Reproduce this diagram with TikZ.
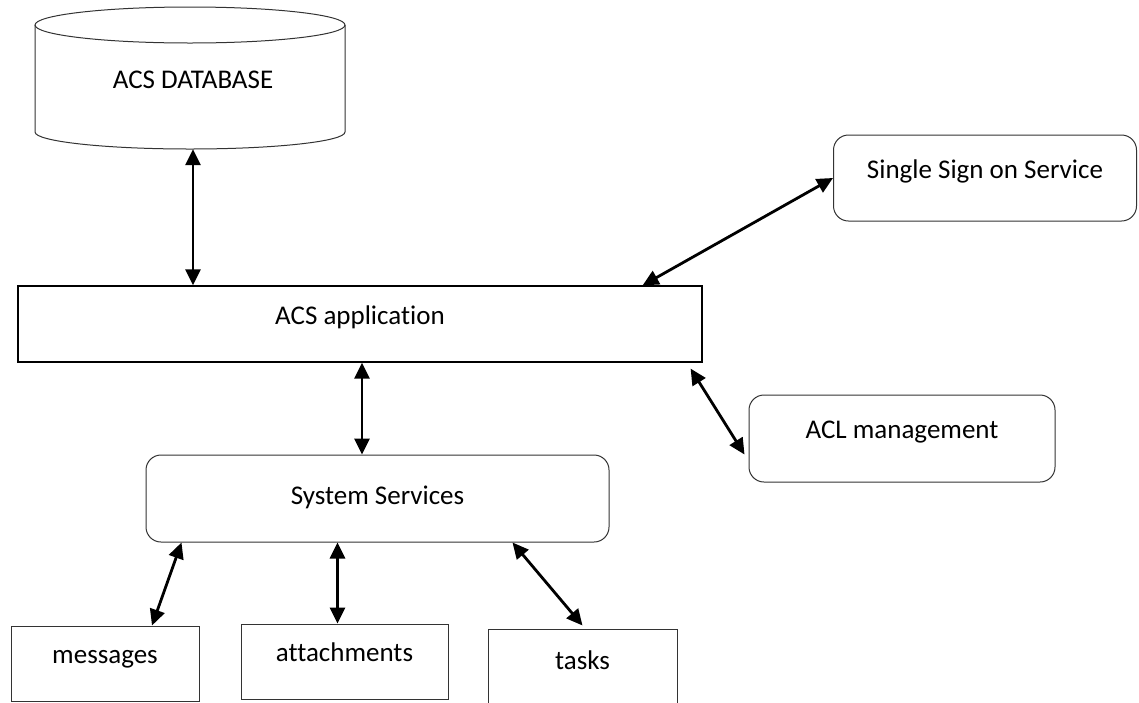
\documentclass[tikz,border=0pt]{standalone}
\usepackage{fontspec}
\setmainfont{Carlito}[Ligatures={NoCommon}]
\usetikzlibrary{arrows.meta,calc}
\begin{document}
\begin{tikzpicture}[x=1pt,y=1pt,
  every node/.style={font=\fontsize{27}{32}\selectfont, text height=18pt, text depth=18pt, inner sep=0pt},
  box/.style={draw=black!80, line width=1pt},
  sharpbox/.style={draw=black, line width=1.2pt},
  roundbox/.style={draw=black!80, line width=1pt, rounded corners=15pt},
  link/.style={line width=2.8pt, {Triangle[length=16pt,width=15pt]}-{Triangle[length=16pt,width=15pt]}}
]
\clip (0,-702) rectangle (1139,0);
\fill[white] (0,-702) rectangle (1139,0);
% cylinder
\draw[box] (190,-25) ellipse [x radius=155, y radius=18];
\draw[box] (35,-25) -- (35,-132) arc[start angle=180, end angle=360, x radius=155, y radius=17] -- (345,-25);
\node[minimum width=310pt, minimum height=142pt, text height=26pt, text depth=6pt] (db) at (193,-78) {ACS DATABASE};
% boxes
\node[sharpbox, minimum width=684pt, minimum height=76pt] (app) at (360,-324) {ACS application};
\node[roundbox, minimum width=303pt, minimum height=86pt] (sso) at (985,-178) {Single Sign on Service};
\node[roundbox, minimum width=306pt, minimum height=87pt] (acl) at (902,-438.5) {ACL management};
\node[roundbox, minimum width=463pt, minimum height=87pt, text height=18pt, text depth=6pt] (sys) at (377.5,-498.5) {System Services};
\node[box, minimum width=188pt, minimum height=75pt] (msg) at (105,-663.5) {messages};
\node[box, minimum width=207pt, minimum height=75pt] (att) at (344.5,-661.5) {attachments};
\node[box, minimum width=189pt, minimum height=81pt] (tsk) at (582.5,-669.5) {tasks};
% helper points
\coordinate (appS) at ($(app.south)+(2,0)$);
\coordinate (attN) at ($(att.north)+(-7,0)$);
% connectors
\draw[link] (db.south) -- (db.south |- app.north);
\draw[link] ($(app.north east)+(-60,0)$) -- (sso.west);
\draw[link] ($(app.south east)+(-12,-6)$) -- ($(acl.west)+(-4,-16)$);
\draw[link] (appS) -- (appS |- sys.north);
\draw[link] ($(sys.south west)+(36,0)$) -- ($(msg.north)+(47,0)$);
\draw[link] (attN |- sys.south) -- (attN);
\draw[link] ($(sys.south west)+(367,0)$) -- ($(tsk.north)+(0,3)$);
\end{tikzpicture}
\end{document}
